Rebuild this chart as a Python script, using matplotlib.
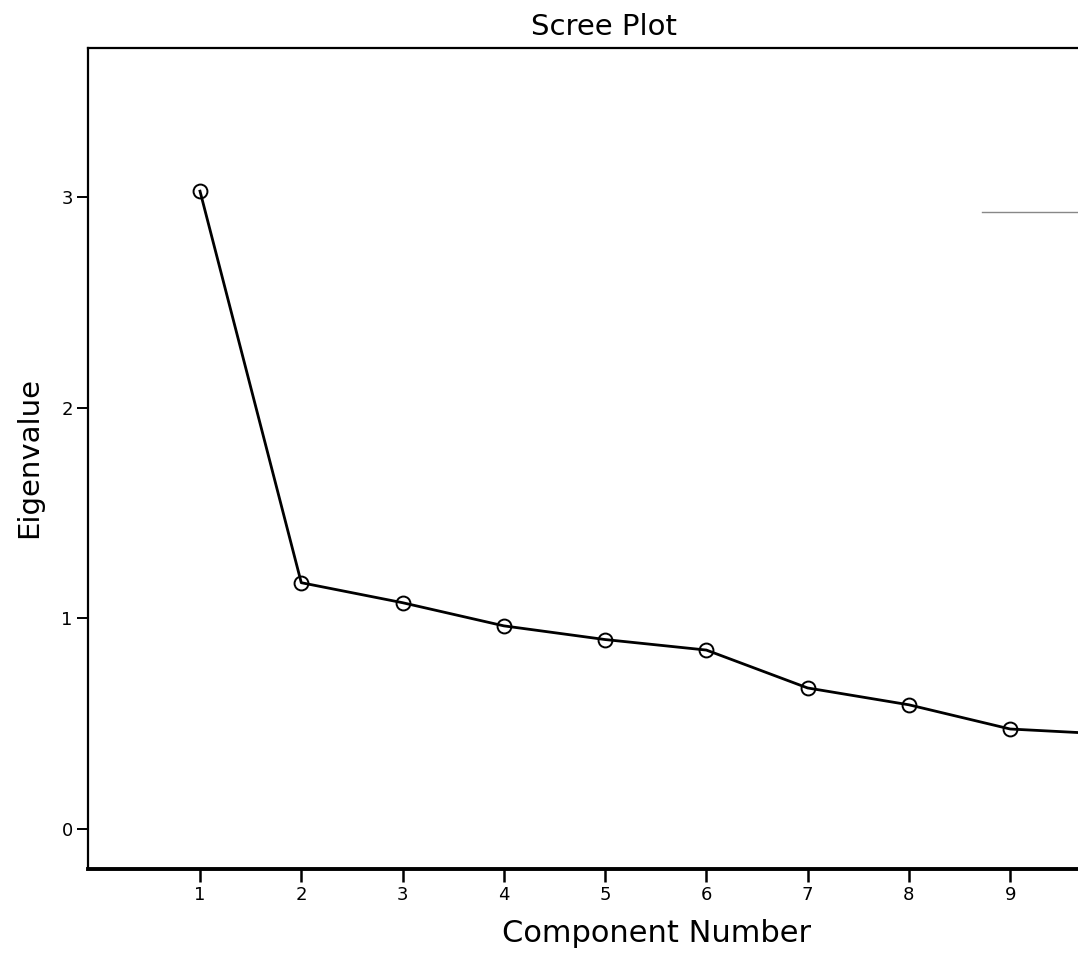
import matplotlib
matplotlib.use("Agg")
import matplotlib.pyplot as plt

components = [1, 2, 3, 4, 5, 6, 7, 8, 9, 10]
eigenvalues = [3.03, 1.17, 1.075, 0.965, 0.90, 0.85, 0.67, 0.59, 0.475, 0.45]
x_ticks = [1, 2, 3, 4, 5, 6, 7, 8, 9]
y_ticks = [0, 1, 2, 3]
ref_line_y = 2.93
ref_line_x = [8.72, 9.8]

plt.rcParams['font.family'] = ['DejaVu Sans']

W, H = 1078, 960
fig = plt.figure(figsize=(W / 100, H / 100), dpi=100)
left_px, top_px, bottom_px = 88, 48, 869
ax = fig.add_axes([left_px / W, (H - bottom_px) / H,
                   1 - left_px / W, (bottom_px - top_px) / H])

ax.plot(components, eigenvalues, color='black', linewidth=2.0,
        marker='o', markersize=10, markerfacecolor='none',
        markeredgecolor='black', markeredgewidth=1.4)
ax.plot(ref_line_x, [ref_line_y, ref_line_y], color='#888888', linewidth=1.0)

ax.set_xlim(-0.106, 9.67)
ax.set_ylim(-0.19, 3.71)
ax.set_xticks(x_ticks)
ax.set_yticks(y_ticks)
ax.set_xticklabels([str(v) for v in x_ticks], fontsize=13)
ax.set_yticklabels([str(v) for v in y_ticks], fontsize=13)
ax.tick_params(axis='x', direction='out', length=9, width=1.8, pad=3)
ax.tick_params(axis='y', direction='out', length=8, width=1.4, pad=3)

for s in ['left', 'top']:
    ax.spines[s].set_linewidth(1.6)
ax.spines['bottom'].set_linewidth(2.8)
ax.spines['right'].set_visible(False)

fig.text(657 / W, (H - 942) / H, 'Component Number', fontsize=22,
         ha='center', va='baseline')
fig.text(29 / W, (H - 458) / H, 'Eigenvalue', fontsize=21, rotation=90,
         ha='center', va='center')
fig.text(604 / W, (H - 35) / H, 'Scree Plot', fontsize=21,
         ha='center', va='baseline')

fig.savefig('out.png', dpi=100)
